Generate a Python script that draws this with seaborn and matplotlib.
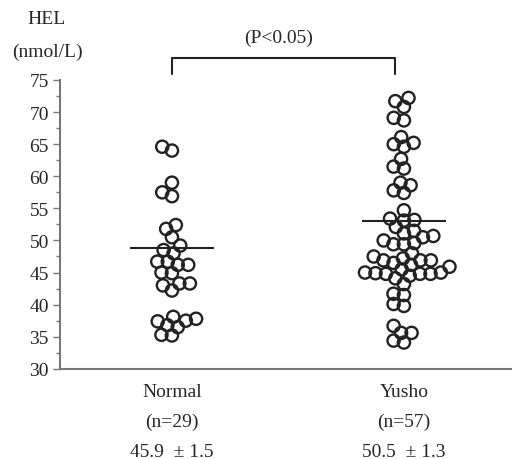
import numpy as np
import pandas as pd
import matplotlib
matplotlib.use("Agg")
import matplotlib.pyplot as plt
import seaborn as sns

# HEL values (nmol/L)
normal_vals = [64.0, 64.6, 59.0, 56.9, 57.5, 51.8, 52.4, 50.5, 49.2, 48.5,
               48.0, 46.7, 46.7, 46.2, 46.2, 44.9, 45.0, 43.3, 43.0, 43.3,
               42.2, 37.5, 37.8, 37.4, 38.1, 36.5, 36.8, 35.3, 35.2]
yusho_vals = [72.2, 71.7, 70.8, 69.1, 68.7, 65.2, 66.1, 64.6, 65.0, 62.7,
              61.2, 61.5, 58.6, 59.0, 57.4, 57.8, 54.7, 53.1, 53.4, 53.2,
              52.1, 51.1, 51.5, 50.5, 49.4, 49.4, 50.0, 49.6, 50.7, 48.0,
              47.5, 46.9, 46.9, 46.9, 47.2, 46.2, 46.5, 45.9, 45.5, 44.8,
              44.8, 44.5, 44.9, 45.0, 44.8, 44.1, 45.0, 43.2, 41.5, 41.7,
              39.8, 40.1, 36.7, 35.6, 35.6, 34.1, 34.4]
groups = ["Normal", "Yusho"]
n_counts = [29, 57]
mean_text = ["45.9  ± 1.5", "50.5  ± 1.3"]
line_vals = [48.8, 53.1]

df = pd.DataFrame({
    "group": ["Normal"] * len(normal_vals) + ["Yusho"] * len(yusho_vals),
    "HEL": normal_vals + yusho_vals,
})

sns.set_style("ticks")
plt.rcParams["font.family"] = ["Liberation Serif", "DejaVu Serif"]
fs = 14

fig = plt.figure(figsize=(5.12, 4.6), dpi=100)
ax = fig.add_axes([0.117, 0.196, 0.883, 0.628])

sns.swarmplot(data=df, x="group", y="HEL", order=groups, size=7.2,
              color="k", ax=ax)
ax.set_xlim(-0.483, 1.466)
ax.set_ylim(30, 75)

# lay out the swarm once, then freeze it and enlarge the open circles
fig.canvas.draw()
for coll in ax.collections:
    if "draw" in coll.__dict__:
        del coll.draw
    coll.set_sizes([8.8 ** 2])
    coll.set_facecolor("none")
    coll.set_edgecolor("#222222")
    coll.set_linewidth(1.7)

ax.hlines(line_vals, [-0.18, 0.82], [0.18, 1.18], color="#222222", lw=1.5)

ax.set_yticks(range(30, 76, 5))
ax.set_yticks(np.arange(32.5, 75, 5), minor=True)
ax.tick_params(axis="y", which="major", length=5, width=1, color="#777777",
               labelsize=fs, pad=3)
ax.tick_params(axis="y", which="minor", length=3, width=1, color="#777777")
ax.set_xticks([0, 1])
ax.set_xticklabels([f"{g}\n(n={n})\n{m}" for g, n, m in
                    zip(groups, n_counts, mean_text)],
                   linespacing=2.0)
ax.tick_params(axis="x", length=0, labelsize=fs, pad=10)
ax.set_xlabel("")
ax.set_ylabel("")

sns.despine(ax=ax, top=True, right=True)
for side in ["left", "bottom"]:
    ax.spines[side].set_color("#777777")
    ax.spines[side].set_linewidth(1.5)

# significance bracket
ax.plot([0, 0, 0.96, 0.96], [75.9, 78.4, 78.4, 75.9], color="#222222",
        lw=1.5, clip_on=False)
ax.text(0.46, 81.7, "(P<0.05)", ha="center", va="center", fontsize=fs,
        clip_on=False)

fig.text(47 / 512, 1 - 20 / 460, "HEL", ha="center", va="center", fontsize=fs)
fig.text(47 / 512, 1 - 52 / 460, "(nmol/L)", ha="center", va="center",
         fontsize=fs)

fig.savefig("out.png", dpi=100)
